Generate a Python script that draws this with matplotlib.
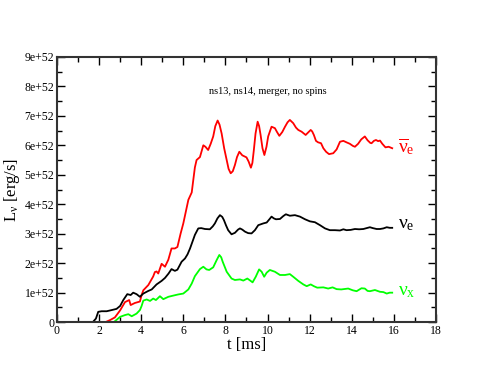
import matplotlib
matplotlib.use('Agg')
import matplotlib.pyplot as plt
from matplotlib.ticker import MultipleLocator, FuncFormatter

plt.rcParams['font.family'] = ['Liberation Serif', 'DejaVu Serif']
plt.rcParams['mathtext.fontset'] = 'stix'
plt.rcParams['mathtext.default'] = 'regular'

# luminosities in units of 1e52 erg/s, time in ms
t_nuebar = [0, 2.3, 2.52, 2.75, 3.0, 3.23, 3.43, 3.5, 3.7, 3.94, 4.02, 4.1, 4.34, 4.57, 4.65,
            4.73, 4.81, 4.97, 5.13, 5.29, 5.44, 5.6, 5.72, 5.87, 6.0, 6.24, 6.4, 6.47, 6.55,
            6.63, 6.79, 6.95, 7.05, 7.18, 7.3, 7.42, 7.52, 7.63, 7.72, 7.82, 7.94, 8.06, 8.15,
            8.25, 8.35, 8.45, 8.55, 8.66, 8.8, 9.0, 9.1, 9.21, 9.28, 9.35, 9.43, 9.53, 9.6,
            9.67, 9.76, 9.85, 9.95, 10.03, 10.19, 10.35, 10.45, 10.56, 10.7, 10.83, 10.95,
            11.06, 11.22, 11.35, 11.46, 11.62, 11.81, 11.95, 12.05, 12.12, 12.2, 12.3, 12.4,
            12.54, 12.65, 12.78, 12.92, 13.12, 13.28, 13.44, 13.6, 13.75, 13.91, 14.05, 14.15,
            14.3, 14.45, 14.62, 14.75, 14.88, 14.94, 15.05, 15.15, 15.25, 15.34, 15.45, 15.6,
            15.75, 15.92]
L_nuebar = [0, 0, 0.07, 0.16, 0.40, 0.68, 0.75, 0.58, 0.65, 0.70, 0.92, 1.08, 1.26, 1.55, 1.70,
            1.72, 1.65, 1.98, 1.88, 2.12, 2.50, 2.50, 2.55, 3.0, 3.35, 4.15, 4.4, 4.8, 5.25,
            5.5, 5.6, 6.0, 5.95, 5.84, 6.05, 6.3, 6.65, 6.84, 6.7, 6.4, 5.9, 5.5, 5.2,
            5.05, 5.12, 5.33, 5.6, 5.78, 5.66, 5.59, 5.45, 5.24, 5.4, 5.84, 6.4, 6.8, 6.65,
            6.35, 5.9, 5.67, 5.95, 6.3, 6.63, 6.58, 6.45, 6.32, 6.45, 6.63, 6.78,
            6.86, 6.75, 6.6, 6.52, 6.46, 6.35, 6.45, 6.52, 6.47, 6.35, 6.15, 6.1,
            6.07, 5.9, 5.78, 5.70, 5.73, 5.86, 6.12, 6.15, 6.1, 6.05, 5.98, 5.95,
            6.05, 6.2, 6.3, 6.17, 6.08, 6.07, 6.15, 6.18, 6.14, 6.16, 6.05, 5.93,
            5.95, 5.9]

t_nue = [0, 1.7, 1.85, 1.96, 2.12, 2.36, 2.6, 2.83, 3.0, 3.15, 3.34, 3.5, 3.62, 3.78, 3.94,
         4.1, 4.34, 4.5, 4.73, 4.97, 5.13, 5.3, 5.44, 5.6, 5.72, 5.92, 6.08, 6.2, 6.32, 6.47,
         6.55, 6.71, 6.85, 7.03, 7.26, 7.4, 7.5, 7.62, 7.74, 7.85, 7.93, 8.03, 8.13, 8.29,
         8.45, 8.6, 8.69, 8.8, 8.93, 9.08, 9.24, 9.4, 9.56, 9.8, 9.96, 10.1, 10.19, 10.3,
         10.4, 10.59, 10.75, 10.87, 11.06, 11.3, 11.54, 11.78, 12.01, 12.25, 12.49, 12.73,
         12.96, 13.2, 13.44, 13.6, 13.75, 13.95, 14.15, 14.35, 14.55, 14.86, 15.0, 15.18,
         15.34, 15.5, 15.66, 15.8, 15.92]
L_nue = [0, 0, 0.12, 0.35, 0.37, 0.37, 0.41, 0.45, 0.55, 0.75, 0.95, 0.92, 1.0, 0.95, 0.86,
         0.97, 1.06, 1.11, 1.28, 1.40, 1.50, 1.65, 1.80, 1.74, 1.78, 2.05, 2.16, 2.3, 2.5, 2.8,
         2.96, 3.18, 3.19, 3.16, 3.15, 3.25, 3.35, 3.52, 3.63, 3.57, 3.46, 3.28, 3.12, 2.98,
         3.03, 3.14, 3.18, 3.14, 3.07, 3.02, 3.01, 3.12, 3.29, 3.35, 3.38, 3.5, 3.58, 3.52,
         3.49, 3.5, 3.6, 3.66, 3.61, 3.63, 3.58, 3.49, 3.42, 3.39, 3.29, 3.18,
         3.12, 3.12, 3.11, 3.15, 3.12, 3.13, 3.16, 3.15, 3.16, 3.22, 3.19, 3.16,
         3.16, 3.18, 3.22, 3.2, 3.2]

t_nux = [0, 2.7, 2.8, 3.0, 3.23, 3.39, 3.55, 3.78, 3.94, 4.02, 4.1, 4.26, 4.42, 4.57, 4.7,
         4.89, 5.05, 5.29, 5.52, 5.76, 6.0, 6.24, 6.4, 6.55, 6.79, 6.95, 7.1, 7.23, 7.42,
         7.58, 7.71, 7.8, 7.87, 8.06, 8.29, 8.45, 8.69, 8.85, 9.04, 9.16, 9.29, 9.44, 9.6,
         9.72, 9.84, 9.96, 10.11, 10.35, 10.59, 10.83, 11.06, 11.22, 11.46, 11.7, 11.86,
         12.05, 12.2, 12.36, 12.65, 12.88, 13.09, 13.28, 13.5, 13.83, 14.05, 14.23, 14.46,
         14.62, 14.75, 14.86, 15.1, 15.34, 15.5, 15.66, 15.8, 15.92]
L_nux = [0, 0, 0.06, 0.18, 0.24, 0.27, 0.20, 0.29, 0.41, 0.55, 0.73, 0.77, 0.72, 0.80, 0.75,
         0.88, 0.78, 0.86, 0.90, 0.94, 0.97, 1.11, 1.31, 1.56, 1.80, 1.88, 1.79, 1.77, 1.86,
         2.1, 2.28, 2.2, 2.05, 1.71, 1.48, 1.43, 1.45, 1.41, 1.48, 1.42, 1.35, 1.54, 1.79,
         1.71, 1.54, 1.68, 1.77, 1.71, 1.6, 1.6, 1.63, 1.54, 1.40, 1.28, 1.22,
         1.28, 1.22, 1.17, 1.18, 1.14, 1.18, 1.12, 1.11, 1.14, 1.08, 1.05, 1.15,
         1.14, 1.06, 1.05, 1.09, 1.03, 1.02, 0.97, 1.0, 1.0]

scale = 1e52

fig = plt.figure(figsize=(4.91, 3.79), dpi=100)
ax = fig.add_axes([0.116, 0.150, 0.772, 0.700])

ax.plot(t_nuebar, [v * scale for v in L_nuebar], color='#ff0000', lw=1.3)
ax.plot(t_nue, [v * scale for v in L_nue], color='black', lw=1.3)
ax.plot(t_nux, [v * scale for v in L_nux], color='#00ff00', lw=1.3)

ax.set_xlim(0, 18)
ax.set_ylim(0, 9 * scale)
ax.xaxis.set_major_locator(MultipleLocator(2))
ax.xaxis.set_minor_locator(MultipleLocator(1))
ax.yaxis.set_major_locator(MultipleLocator(scale))
ax.yaxis.set_minor_locator(MultipleLocator(0.5 * scale))
ax.yaxis.set_major_formatter(FuncFormatter(
    lambda v, p: '0' if abs(v) < 1e40 else '%de+52' % round(v / scale)))
ax.tick_params(which='both', direction='in', top=True, right=True, labelsize=8.5, pad=2)
ax.tick_params(which='major', length=6, width=1)
ax.tick_params(which='minor', length=3.5, width=1)
for s in ax.spines.values():
    s.set_linewidth(1.5)
    s.set_color('#333333')

ax.set_xlabel('t [ms]', fontsize=12, labelpad=0)
ax.set_ylabel(r'L$_\nu$ [erg/s]', fontsize=12, labelpad=2)

ax.text(7.22, 7.81 * scale, 'ns13, ns14, merger, no spins', fontsize=7.5, va='center')
ax.text(16.2, 5.77 * scale, r'$\overline{\nu}_e$', color='#ff0000', fontsize=14, va='baseline')
ax.text(16.2, 3.19 * scale, r'$\nu_e$', color='black', fontsize=14, va='baseline')
ax.text(16.2, 0.92 * scale, r'$\nu_x$', color='#00ff00', fontsize=14, va='baseline')

fig.savefig('out.png', dpi=100)
